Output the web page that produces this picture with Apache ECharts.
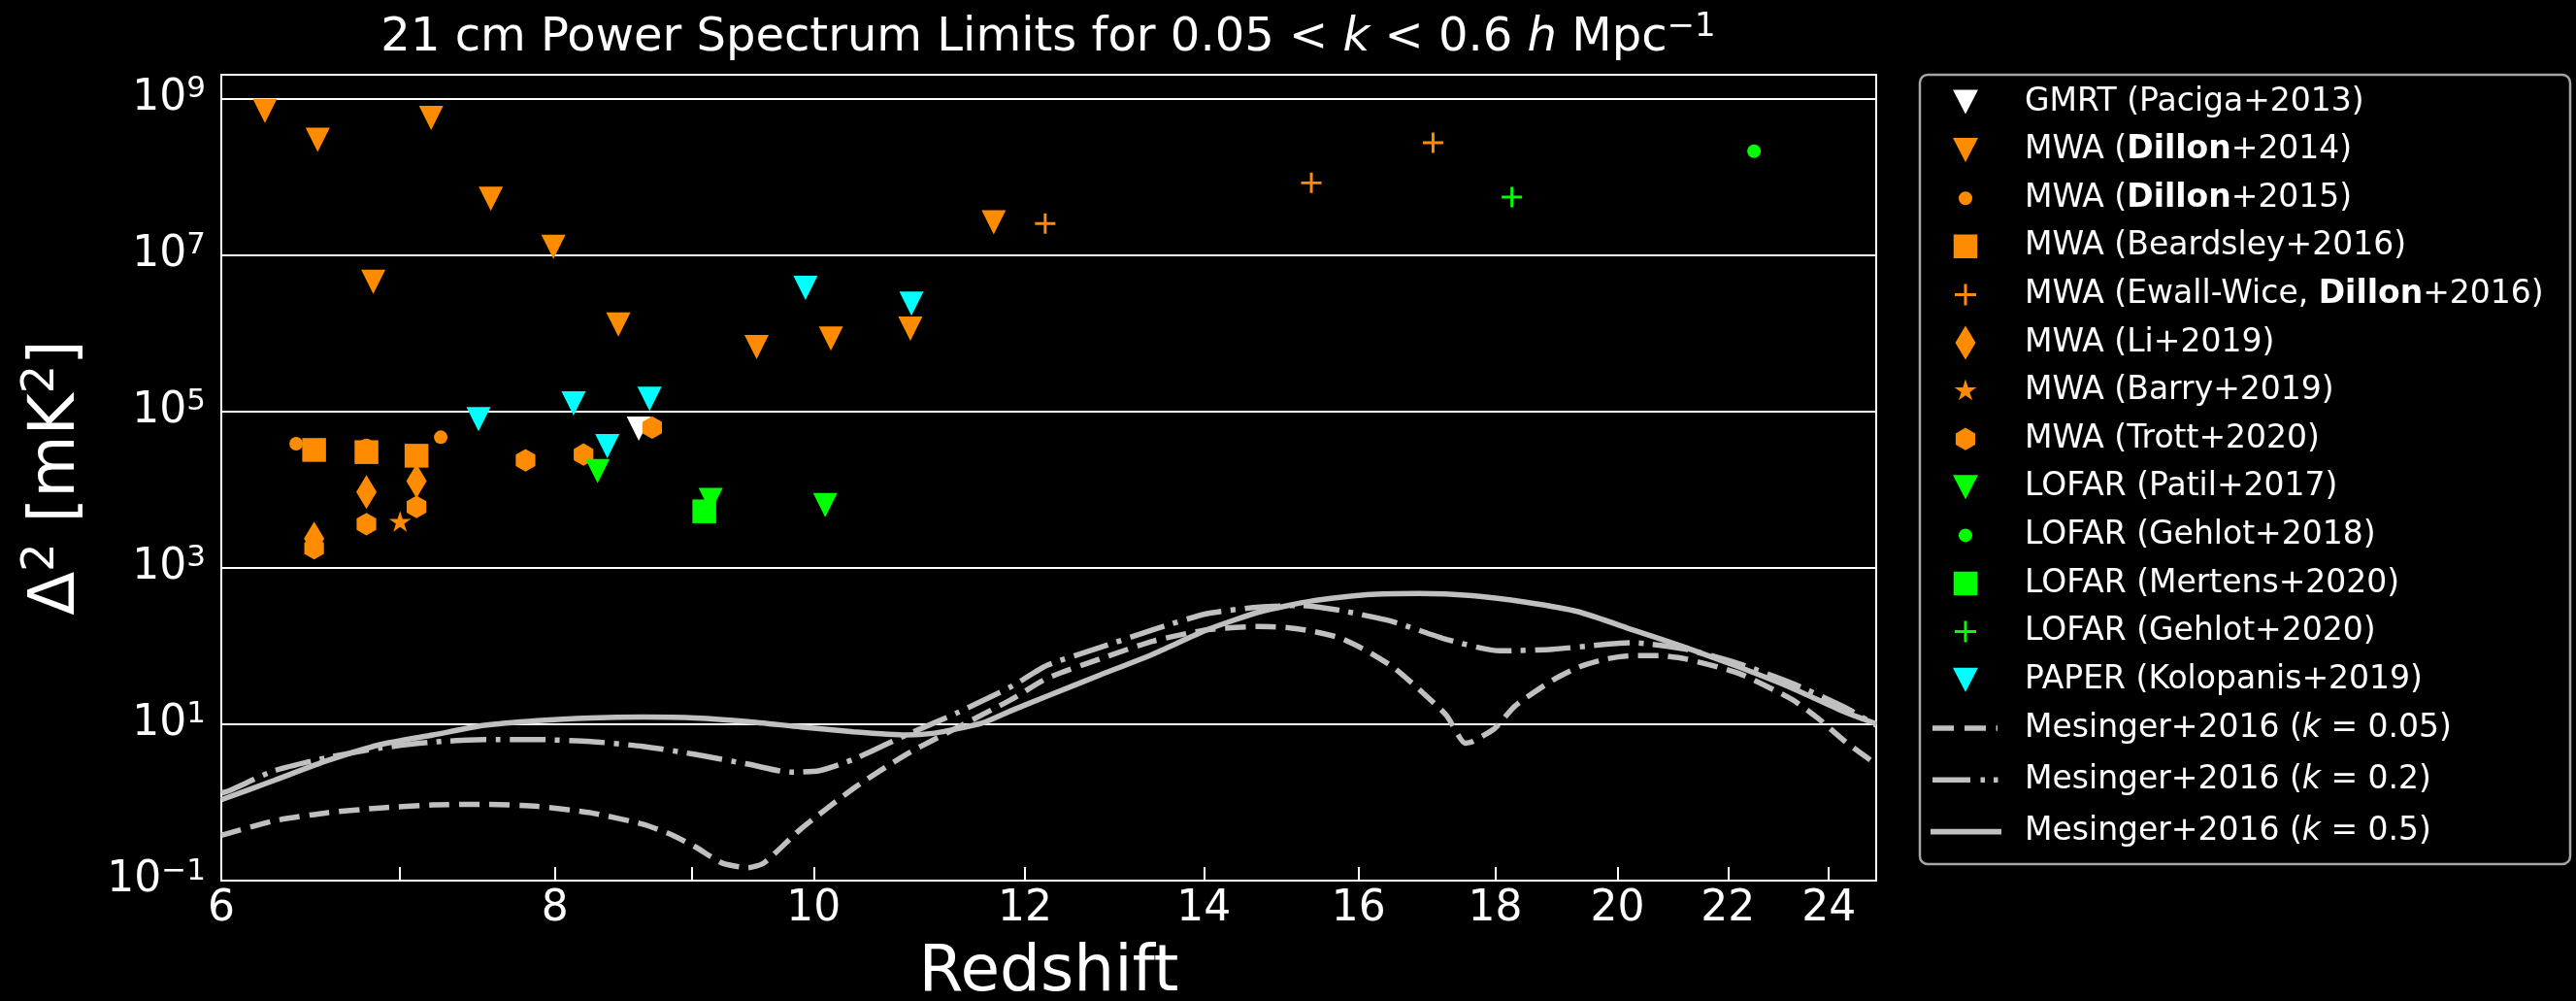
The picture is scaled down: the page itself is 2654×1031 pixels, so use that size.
<!DOCTYPE html>
<html>
<head>
<meta charset="utf-8">
<script src="https://cdn.jsdelivr.net/npm/echarts@6/dist/echarts.min.js"></script>
<style>
  html, body { margin: 0; padding: 0; background: #000; }
  #chart { width: 2654px; height: 1031px; }
</style>
</head>
<body>
<div id="chart"></div>
<script>
// ---- 21 cm power spectrum upper limits (redshift z, Δ² in mK²) ----
const pacigaZ = [8.6];
const pacigaD = [6.0e4];
const dillon14Z = [6.23, 6.52, 6.84, 7.19, 7.57, 7.99, 8.45, 9.52, 10.15, 10.87, 11.68];
const dillon14D = [6.9e8, 2.95e8, 4.5e6, 5.6e8, 5.2e7, 1.26e7, 1.28e6, 6.6e5, 8.5e5, 1.14e6, 2.6e7];
const dillon15Z = [6.4, 6.8, 7.25];
const dillon15D = [3.84e4, 3.66e4, 4.65e4];
const beardsleyZ = [6.5, 6.8, 7.1];
const beardsleyD = [3.2e4, 3.0e4, 2.7e4];
const ewallWiceZ = [12.21, 15.36, 17.06];
const ewallWiceD = [2.5e7, 8.3e7, 2.7e8];
const li19Z = [6.5, 6.8, 7.1];
const li19D = [2.35e3, 9.3e3, 1.28e4];
const barryZ = [7.0];
const barryD = [3.9e3];
const trottZ = [6.5, 6.8, 7.1, 7.8, 8.2, 8.7];
const trottD = [1.77e3, 3.6e3, 5.97e3, 2.36e4, 2.79e4, 6.18e4];
const patilZ = [8.3, 9.15, 10.1];
const patilD = [1.71e4, 7.35e3, 6.3e3];
const gehlot18Z = [22.5];
const gehlot18D = [2.11e8];
const mertensZ = [9.1];
const mertensD = [5.25e3];
const gehlot20Z = [18.26];
const gehlot20D = [5.46e7];
const kolopanisZ = [7.49, 8.13, 8.37, 8.68, 9.93, 10.88];
const kolopanisD = [7.9e4, 1.26e5, 3.57e4, 1.44e5, 3.78e6, 2.37e6];

// ---- Mesinger+2016 model curves ----
const mesK005Z = [6.0, 6.28, 6.57, 6.88, 7.2, 7.53, 7.88, 8.25, 8.63, 8.83, 9.03, 9.24, 9.45, 9.58, 9.89, 10.35, 10.83, 11.33, 11.86, 12.23, 12.8, 13.4, 14.04, 14.69, 15.03, 15.39, 15.74, 16.11, 16.48, 16.86, 17.26, 17.54, 17.65, 17.99, 18.31, 18.92, 19.35, 19.81, 20.26, 20.74, 21.21, 22.21, 23.25, 23.79, 24.34, 25.0];
const mesK005D = [0.38, 0.581, 0.736, 0.849, 0.927, 0.944, 0.891, 0.736, 0.527, 0.396, 0.27, 0.168, 0.146, 0.168, 0.457, 1.51, 4.1, 9.2, 20.7, 38.5, 68.2, 115, 161, 177, 172, 153, 127, 86.7, 53.8, 27.6, 12.9, 5.71, 6.0, 8.79, 17.1, 36.7, 53.8, 68.2, 75.0, 75.0, 68.2, 44.5, 20.7, 11.7, 6.0, 3.08];
const mesK02Z = [6.0, 6.05, 6.28, 6.57, 6.88, 7.2, 7.53, 7.88, 8.25, 8.63, 9.03, 9.45, 9.8, 10.05, 10.35, 10.83, 11.33, 11.86, 12.23, 12.8, 13.4, 14.04, 14.69, 15.24, 15.74, 16.48, 17.26, 18.07, 18.92, 19.81, 20.26, 21.21, 22.21, 23.25, 24.34, 25.0];
const mesK02D = [1.31, 1.44, 2.54, 3.72, 4.95, 5.89, 6.35, 6.35, 6.0, 5.2, 4.1, 3.08, 2.43, 2.54, 3.55, 7.26, 14.2, 30.3, 56.4, 95.3, 161, 259, 314, 329, 285, 204, 121, 86.5, 90.8, 105, 110, 90.8, 59.2, 33.3, 16.3, 9.66];
const mesK05Z = [6.0, 6.28, 6.57, 6.88, 7.2, 7.53, 7.88, 8.25, 8.63, 9.03, 9.45, 9.89, 10.35, 10.83, 11.08, 11.33, 11.59, 11.86, 12.23, 12.8, 13.4, 14.04, 14.69, 15.39, 16.11, 16.86, 17.65, 18.48, 19.35, 20.26, 21.21, 22.21, 23.25, 24.34, 25.0];
const mesK05D = [1.08, 1.91, 3.39, 5.46, 7.26, 9.66, 11.1, 12.0, 12.3, 12.0, 10.8, 9.2, 7.98, 7.26, 7.62, 8.79, 10.6, 14.9, 22.8, 42.4, 78.7, 161, 272, 379, 451, 468, 438, 362, 272, 161, 95.3, 53.7, 28.9, 14.2, 10.1];

// ---- axes ----
const zRange = [6, 25];
const dRange = [0.1, 2e9];
const zTickValues = [6, 7, 8, 9, 10, 12, 14, 16, 18, 20, 22, 24];
const zLabelValues = [6, 8, 10, 12, 14, 16, 18, 20, 22, 24];
const dTickValues = [0.1, 10, 1e3, 1e5, 1e7, 1e9];

const FONT = 'DejaVu Sans';
const ORANGE = '#ff8c00';
const LIME = '#00ff00';
const CYAN = '#00ffff';
const WHITE = '#ffffff';
const SILVER = '#c0c0c0';

// marker shapes used on the plot
const SYM = {
  tri: 'path://M0,0L2,0L1,2Z',
  plus: 'path://M43,0h14v43h43v14h-43v43h-14v-43h-43v-14h43z',
  hex: 'path://M0.866,0L1.732,0.5L1.732,1.5L0.866,2L0,1.5L0,0.5Z',
  star: 'path://M18,6L20.69,14.29L29.41,14.29L22.36,19.42L25.05,27.71L18,22.58L10.95,27.71L13.64,19.42L6.59,14.29L15.31,14.29Z'
};
// legend icons drawn inside a fixed box so every marker keeps its own size
const BOX = 'M0,0h0.01v0.01h-0.01z M36,36h-0.01v-0.01h0.01z ';
const ICON = {
  tri: 'path://' + BOX + 'M5,5.5L31,5.5L18,30.5Z',
  circle: 'path://' + BOX + 'M11,18a7,7 0 1,0 14,0a7,7 0 1,0 -14,0Z',
  rect: 'path://' + BOX + 'M5.75,5.75h24.5v24.5h-24.5Z',
  plus: 'path://' + BOX + 'M16.5,7h3v9.5h9.5v3h-9.5v9.5h-3v-9.5h-9.5v-3h9.5Z',
  diamond: 'path://' + BOX + 'M18,0.5L28.5,18L18,35.5L7.5,18Z',
  star: 'path://' + BOX + 'M18,6L20.69,14.29L29.41,14.29L22.36,19.42L25.05,27.71L18,22.58L10.95,27.71L13.64,19.42L6.59,14.29L15.31,14.29Z',
  hex: 'path://' + BOX + 'M18,6.35L28.09,12.18L28.09,23.83L18,29.65L7.91,23.83L7.91,12.18Z'
};
// line samples for the model curves, 73x36 box
const LBOX = 'M0,0h0.01v0.01h-0.01z M73,36h-0.01v-0.01h0.01z ';
const LINE_ICON = {
  dashed: 'path://' + LBOX + 'M2,15.2h22v5.6h-22z M35,15.2h22v5.6h-22z M67.5,15.2h1.5v5.6h-1.5z',
  dashDot: 'path://' + LBOX + 'M2,15.2h39v5.6h-39z M51.5,15.2h4.5v5.6h-4.5z M65,15.2h4.5v5.6h-4.5z',
  solid: 'path://' + LBOX + 'M0,15.2h73v5.6h-73z'
};

const scatterSpecs = [
  { name: 'GMRT (Paciga+2013)', z: pacigaZ, d: pacigaD, color: WHITE, symbol: SYM.tri, size: 25, icon: ICON.tri },
  { name: 'MWA (Dillon+2014)', z: dillon14Z, d: dillon14D, color: ORANGE, symbol: SYM.tri, size: 25, icon: ICON.tri },
  { name: 'MWA (Dillon+2015)', z: dillon15Z, d: dillon15D, color: ORANGE, symbol: 'circle', size: 14, icon: ICON.circle },
  { name: 'MWA (Beardsley+2016)', z: beardsleyZ, d: beardsleyD, color: ORANGE, symbol: 'rect', size: 24.5, icon: ICON.rect },
  { name: 'MWA (Ewall-Wice, Dillon+2016)', z: ewallWiceZ, d: ewallWiceD, color: ORANGE, symbol: SYM.plus, size: 21, icon: ICON.plus },
  { name: 'MWA (Li+2019)', z: li19Z, d: li19D, color: ORANGE, symbol: 'diamond', size: [21, 35], icon: ICON.diamond },
  { name: 'MWA (Barry+2019)', z: barryZ, d: barryD, color: ORANGE, symbol: SYM.star, size: [22.5, 21.5], icon: ICON.star },
  { name: 'MWA (Trott+2020)', z: trottZ, d: trottD, color: ORANGE, symbol: SYM.hex, size: [20.2, 23.3], icon: ICON.hex },
  { name: 'LOFAR (Patil+2017)', z: patilZ, d: patilD, color: LIME, symbol: SYM.tri, size: 25, icon: ICON.tri },
  { name: 'LOFAR (Gehlot+2018)', z: gehlot18Z, d: gehlot18D, color: LIME, symbol: 'circle', size: 14, icon: ICON.circle },
  { name: 'LOFAR (Mertens+2020)', z: mertensZ, d: mertensD, color: LIME, symbol: 'rect', size: 24.5, icon: ICON.rect },
  { name: 'LOFAR (Gehlot+2020)', z: gehlot20Z, d: gehlot20D, color: LIME, symbol: SYM.plus, size: 21, icon: ICON.plus },
  { name: 'PAPER (Kolopanis+2019)', z: kolopanisZ, d: kolopanisD, color: CYAN, symbol: SYM.tri, size: 25, icon: ICON.tri }
];

const lineSpecs = [
  { name: 'Mesinger+2016 (k = 0.05)', z: mesK005Z, d: mesK005D, dash: [21, 10], icon: LINE_ICON.dashed },
  { name: 'Mesinger+2016 (k = 0.2)', z: mesK02Z, d: mesK02D, dash: [37, 9.5, 5, 9.5], icon: LINE_ICON.dashDot },
  { name: 'Mesinger+2016 (k = 0.5)', z: mesK05Z, d: mesK05D, dash: 'solid', icon: LINE_ICON.solid }
];

// both axes are logarithmic: positions are taken in log10 space
const toPoints = (zs, ds) => zs.map((z, i) => [Math.log10(z), Math.log10(ds[i])]);

const series = [];
scatterSpecs.forEach(s => {
  series.push({
    type: 'scatter',
    name: s.name,
    data: toPoints(s.z, s.d),
    symbol: s.symbol,
    symbolSize: s.size,
    itemStyle: { color: s.color, opacity: 1 },
    emphasis: { disabled: true }
  });
});
lineSpecs.forEach(s => {
  series.push({
    type: 'line',
    name: s.name,
    data: toPoints(s.z, s.d),
    symbol: 'none',
    smooth: 0.2,
    lineStyle: { color: SILVER, width: 5.5, type: s.dash },
    itemStyle: { color: SILVER },
    emphasis: { disabled: true }
  });
});

const white = '#ffffff';
const option = {
  backgroundColor: '#000000',
  animation: false,
  textStyle: { fontFamily: FONT, color: white },
  grid: {
    left: 228, right: 721, top: 77, bottom: 124,
    containLabel: false, outerBoundsMode: 'none',
    show: true, borderColor: white, borderWidth: 2, backgroundColor: 'transparent'
  },
  xAxis: {
    type: 'value',
    min: Math.log10(zRange[0]),
    max: Math.log10(zRange[1]),
    name: 'Redshift',
    nameLocation: 'middle',
    nameGap: 56,
    nameTextStyle: { color: white, fontSize: 66, fontFamily: FONT, lineHeight: 78 },
    axisLine: { show: true, onZero: false, lineStyle: { color: white, width: 2 } },
    axisTick: {
      show: true, inside: true, length: 14,
      customValues: zTickValues.map(v => Math.log10(v)),
      lineStyle: { color: white, width: 2 }
    },
    axisLabel: {
      show: true, margin: 8, color: white, fontSize: 44, fontFamily: FONT,
      customValues: zLabelValues.map(v => Math.log10(v)),
      formatter: v => String(Math.round(Math.pow(10, v)))
    },
    splitLine: { show: false }
  },
  yAxis: {
    type: 'value',
    min: Math.log10(dRange[0]),
    max: Math.log10(dRange[1]),
    name: 'Δ{s|2} [mK{s|2}]',
    nameLocation: 'middle',
    nameRotate: 90,
    nameGap: 130,
    nameTextStyle: {
      color: white, fontSize: 66, fontFamily: FONT, lineHeight: 78,
      rich: { s: { color: white, fontSize: 46, fontFamily: FONT, lineHeight: 45, verticalAlign: 'top' } }
    },
    axisLine: { show: true, onZero: false, lineStyle: { color: white, width: 2 } },
    axisTick: {
      show: true, inside: true, length: 14,
      customValues: dTickValues.map(v => Math.log10(v)),
      lineStyle: { color: white, width: 2 }
    },
    axisLabel: {
      show: true, margin: 16, color: white, fontFamily: FONT,
      customValues: dTickValues.map(v => Math.log10(v)),
      formatter: v => {
        const e = Math.round(v);
        const sup = e < 0 ? '\u2212' + (-e) : String(e);
        return '{b|10}{s|' + sup + '}';
      },
      rich: {
        b: { color: white, fontSize: 44, fontFamily: FONT, lineHeight: 50 },
        s: { color: white, fontSize: 31, fontFamily: FONT, lineHeight: 28, verticalAlign: 'top' }
      }
    },
    splitLine: { show: true, lineStyle: { color: white, width: 2 } }
  },
  legend: [
    {
      orient: 'vertical', left: 2007, top: 87, padding: 0,
      itemWidth: 36, itemHeight: 36, itemGap: 13.6,
      selectedMode: false, symbolKeepAspect: true,
      itemStyle: { borderWidth: 0 },
      data: scatterSpecs.map(s => ({ name: s.name, icon: s.icon })),
      formatter: name => name.replace('Dillon', '{bd|Dillon}'),
      textStyle: {
        color: white, fontSize: 33, fontFamily: FONT, lineHeight: 36, padding: [0, 0, 0, 38],
        rich: { bd: { color: white, fontSize: 33, fontFamily: FONT, fontWeight: 'bold', lineHeight: 36 } }
      }
    },
    {
      orient: 'vertical', left: 1989, top: 732, padding: 0,
      itemWidth: 73, itemHeight: 36, itemGap: 17.3,
      selectedMode: false, symbolKeepAspect: true,
      itemStyle: { borderWidth: 0 },
      data: lineSpecs.map(s => ({ name: s.name, icon: s.icon, itemStyle: { color: SILVER, borderWidth: 0 } })),
      formatter: name => name.replace('(k', '({it|k}'),
      textStyle: {
        color: white, fontSize: 33, fontFamily: FONT, lineHeight: 36, padding: [0, 0, 0, 19],
        rich: { it: { color: white, fontSize: 33, fontFamily: FONT, fontStyle: 'italic', lineHeight: 36 } }
      }
    }
  ],
  graphic: [
    {
      type: 'rect', z: 1, silent: true,
      shape: { x: 1978, y: 77, width: 670, height: 813, r: 8 },
      style: { fill: '#000000', stroke: '#a6a6a6', lineWidth: 2.5 }
    },
    {
      type: 'text', z: 10, silent: true, x: 1080, y: 40,
      style: {
        text: '21 cm Power Spectrum Limits for 0.05 < {i|k} < 0.6 {i|h} Mpc{s|\u22121}',
        fill: white, fontSize: 48, fontFamily: FONT, lineHeight: 58,
        align: 'center', verticalAlign: 'middle',
        rich: {
          i: { fill: white, fontSize: 48, fontFamily: FONT, fontStyle: 'italic', lineHeight: 58 },
          s: { fill: white, fontSize: 34, fontFamily: FONT, lineHeight: 30, verticalAlign: 'top' }
        }
      }
    }
  ],
  series: series
};

const chart = echarts.init(document.getElementById('chart'), null, { renderer: 'canvas' });
chart.setOption(option);
</script>
</body>
</html>
